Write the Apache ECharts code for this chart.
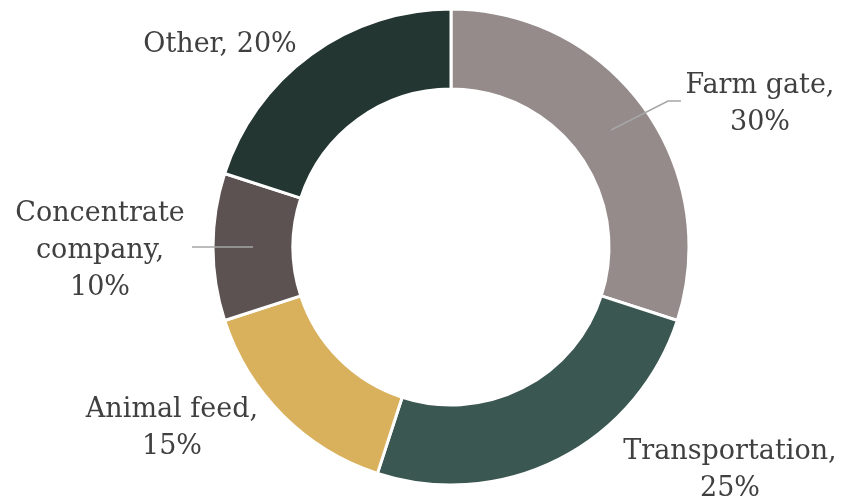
<!DOCTYPE html>
<html>
<head>
<meta charset="utf-8">
<script src="https://cdn.jsdelivr.net/npm/echarts@6/dist/echarts.min.js"></script>
<style>
html, body { margin: 0; padding: 0; background: #fff; }
#main { width: 853px; height: 504px; }
</style>
</head>
<body>
<div id="main"></div>
<script>
var categories = ['Farm gate', 'Transportation', 'Animal feed', 'Concentrate\ncompany', 'Other'];
var shares = [30, 25, 15, 10, 20];
var colors = ['#958b8a', '#3b5751', '#d9b15d', '#5c5252', '#233632'];

// where each label block sits
var labelSpots = [
	{ x: 760, y: 104 },
	{ x: 730, y: 470 },
	{ x: 172, y: 428 },
	{ x: 100, y: 251 },
	{ x: 220, y: 45 }
];

// leader lines, which run into the ring
var leaders = [
	[[611, 130], [668, 101], [681, 101]],
	[[253, 247], [192, 247]]
];

var chart = echarts.init(document.getElementById('main'));
chart.setOption({
	animation: false,
	graphic: leaders.map(function (pts) {
		return {
			type: 'polyline',
			z: 100,
			shape: { points: pts },
			style: { stroke: '#a6a6a6', lineWidth: 1.5, fill: null }
		};
	}),
	series: [
		{
			type: 'pie',
			center: [451, 247],
			radius: [158, 238],
			startAngle: 90,
			clockwise: true,
			itemStyle: { borderColor: '#fff', borderWidth: 3 },
			label: {
				show: true,
				position: 'outside',
				overflow: 'none',
				fontFamily: 'DejaVu Serif',
				fontSize: 27,
				lineHeight: 37,
				color: '#404040',
				align: 'center',
				formatter: function (p) {
					var sep = p.dataIndex === 4 ? ' ' : '\n';
					return p.name + ',' + sep + p.percent + '%';
				}
			},
			labelLine: { show: false },
			labelLayout: function (params) {
				var s = labelSpots[params.dataIndex];
				return {
					x: s.x,
					y: s.y,
					align: 'center',
					verticalAlign: 'middle'
				};
			},
			data: categories.map(function (c, i) {
				return { name: c, value: shares[i], itemStyle: { color: colors[i] } };
			})
		}
	]
});
</script>
</body>
</html>
